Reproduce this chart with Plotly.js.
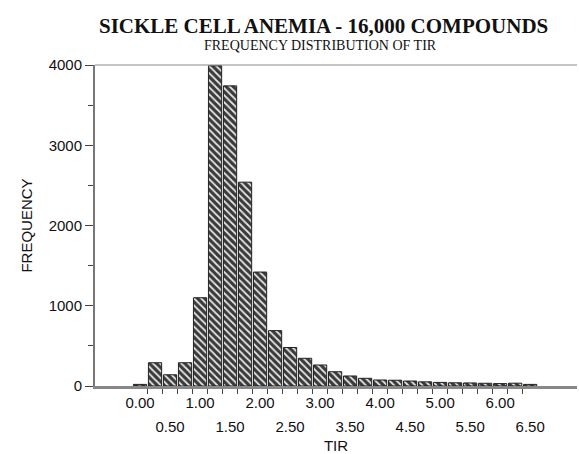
<!DOCTYPE html>
<html>
<head>
<meta charset="utf-8">
<script src="https://cdn.plot.ly/plotly-3.0.1.min.js"></script>
<style>html,body{margin:0;padding:0;background:#fff;}#chart{width:579px;height:454px;}</style>
</head>
<body>
<div id="chart"></div>
<script>
// TIR bin centres and frequencies
const tir = [0.00,0.25,0.50,0.75,1.00,1.25,1.50,1.75,2.00,2.25,2.50,2.75,3.00,3.25,3.50,3.75,4.00,4.25,4.50,4.75,5.00,5.25,5.50,5.75,6.00,6.25,6.50];
const freq = [20,290,140,290,1100,3990,3740,2540,1420,690,480,345,262,178,125,96,75,72,62,52,45,40,38,34,30,35,20];
// x tick labels: upper row (whole numbers) and lower row (halves)
const xTickValsUpper = [0,1,2,3,4,5,6];
const xTickTextUpper = ["0.00","1.00","2.00","3.00","4.00","5.00","6.00"];
const xTickValsLower = [0.5,1.5,2.5,3.5,4.5,5.5,6.5];
const xTickTextLower = ["0.50","1.50","2.50","3.50","4.50","5.50","6.50"];
const yTickVals = [0,1000,2000,3000,4000];
const yTickText = ["0","1000","2000","3000","4000"];

const binEdges = [];
for (let i=0;i<tir.length-1;i++) binEdges.push((tir[i]+tir[i+1])/2);

const xRange = [-0.75,7.28];
const tickFont = {size:15, family:'Liberation Sans, Arial, sans-serif', color:'#111'};

const trace = {
  type:'bar', x:tir, y:freq, width:0.22,
  marker:{
    color:'#3c3c3c',
    line:{color:'#222', width:1},
    pattern:{shape:'\\', bgcolor:'#3a3a3a', fgcolor:'#e6e6e6', size:5, solidity:0.35, fillmode:'replace'}
  },
  hoverinfo:'x+y'
};
// empty trace so the second (lower-row) label axis is drawn
const lowerRow = {type:'scatter', x:[], y:[], xaxis:'x2', yaxis:'y', hoverinfo:'skip'};

const layout = {
  width:579, height:454,
  margin:{l:95, r:2, t:65, b:68},
  paper_bgcolor:'#fff', plot_bgcolor:'#fff',
  showlegend:false,
  font:{family:'Liberation Sans, Arial, sans-serif', size:15, color:'#111'},
  xaxis:{
    range:xRange, showgrid:false, zeroline:false,
    showline:true, linecolor:'#888', linewidth:3,
    tickmode:'array', tickvals:xTickValsUpper, ticktext:xTickTextUpper,
    ticks:'', ticklabelstandoff:1,
    tickfont:tickFont,
    minor:{tickmode:'array', tickvals:binEdges, ticks:'outside', ticklen:5, tickcolor:'#444', tickwidth:1},
    title:{text:'TIR', font:{size:15}, standoff:33}
  },
  xaxis2:{
    overlaying:'x', anchor:'y', side:'bottom',
    range:xRange, showgrid:false, zeroline:false, showline:false,
    tickmode:'array', tickvals:xTickValsLower, ticktext:xTickTextLower,
    ticks:'', ticklabelstandoff:30,
    tickfont:tickFont
  },
  yaxis:{
    range:[0,4000], showgrid:false, zeroline:false,
    showline:true, linecolor:'#777', linewidth:2,
    tickmode:'array', tickvals:yTickVals, ticktext:yTickText,
    ticks:'outside', ticklen:8, tickcolor:'#444', tickwidth:1,
    tickfont:tickFont,
    minor:{dtick:500, ticks:'outside', ticklen:5, tickcolor:'#444'},
    title:{text:'FREQUENCY', font:{size:15}, standoff:12}
  },
  shapes:[
    {type:'line', xref:'paper', yref:'paper', x0:0, x1:1, y0:1, y1:1, line:{color:'#888', width:1}}
  ],
  annotations:[
    {text:'<b>SICKLE CELL ANEMIA - 16,000 COMPOUNDS</b>', xref:'paper', yref:'paper', x:0.475, y:1.1215, xanchor:'center', yanchor:'middle', showarrow:false,
     font:{family:'Liberation Serif, Times New Roman, serif', size:21, color:'#111'}},
    {text:'FREQUENCY DISTRIBUTION OF TIR', xref:'paper', yref:'paper', x:0.468, y:1.0607, xanchor:'center', yanchor:'middle', showarrow:false,
     font:{family:'Liberation Serif, Times New Roman, serif', size:14, color:'#111'}}
  ]
};

Plotly.newPlot('chart',[trace, lowerRow],layout,{displayModeBar:false, staticPlot:true});
</script>
</body>
</html>
